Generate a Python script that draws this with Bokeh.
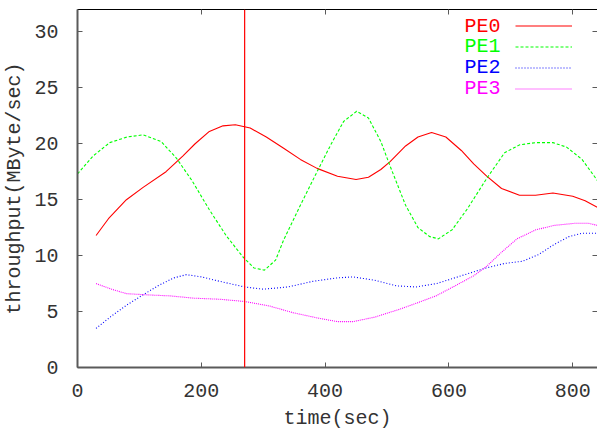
from bokeh.plotting import figure
from bokeh.models import (Range1d, LinearAxis, Span, Label, Legend, LegendItem,
                          FixedTicker, CustomJSTickFormatter)
from bokeh.embed import file_html
from bokeh.resources import INLINE

# ---- data ----
pe0_x = [30, 50, 79, 106, 143, 170, 190, 213, 235, 255, 279, 305, 333, 360, 387, 420, 450, 470, 490, 505, 530, 550, 572, 595, 620, 640, 661, 685, 714, 740, 768, 800, 820, 840]
pe0_y = [11.8, 13.3, 15.0, 16.1, 17.5, 18.9, 20.0, 21.1, 21.6, 21.7, 21.4, 20.6, 19.6, 18.6, 17.8, 17.1, 16.8, 17.0, 17.7, 18.4, 19.8, 20.6, 21.0, 20.6, 19.4, 18.2, 17.1, 16.0, 15.4, 15.4, 15.6, 15.3, 14.9, 14.3]

pe1_x = [0, 25, 52, 80, 106, 135, 160, 185, 213, 240, 267, 285, 302, 320, 333, 360, 387, 410, 430, 451, 470, 490, 505, 530, 550, 569, 583, 605, 630, 661, 690, 714, 740, 768, 790, 815, 840]
pe1_y = [17.3, 18.9, 20.1, 20.6, 20.8, 20.2, 18.7, 16.7, 14.1, 11.8, 9.9, 8.9, 8.7, 9.6, 11.4, 14.5, 17.5, 20.0, 22.0, 22.9, 22.3, 20.2, 18.0, 14.5, 12.5, 11.7, 11.5, 12.3, 14.2, 16.9, 19.2, 19.9, 20.1, 20.1, 19.7, 18.6, 16.7]

pe2_x = [30, 55, 80, 106, 130, 155, 176, 200, 230, 270, 300, 340, 380, 418, 445, 480, 515, 547, 580, 620, 660, 690, 719, 745, 770, 794, 815, 840]
pe2_y = [3.5, 4.6, 5.6, 6.5, 7.3, 8.0, 8.3, 8.1, 7.7, 7.2, 7.0, 7.2, 7.7, 8.0, 8.1, 7.8, 7.3, 7.2, 7.5, 8.2, 8.9, 9.3, 9.5, 10.1, 11.0, 11.7, 12.0, 12.0]

pe3_x = [30, 55, 79, 110, 150, 187, 230, 270, 310, 348, 390, 420, 445, 480, 520, 550, 579, 610, 640, 660, 685, 710, 740, 770, 805, 825, 840]
pe3_y = [7.5, 7.0, 6.6, 6.5, 6.4, 6.2, 6.1, 5.9, 5.5, 4.9, 4.4, 4.1, 4.1, 4.5, 5.2, 5.8, 6.4, 7.3, 8.2, 9.0, 10.3, 11.5, 12.3, 12.7, 12.9, 12.9, 12.7]

series_names = ["PE0", "PE1", "PE2", "PE3"]
series_colors = ["#ff0000", "#00ff00", "#0000ff", "#ff00ff"]
series_dash = ["solid", "3 2", "1 2", "1 1"]

marker_x = 270
x_ticks = [0, 200, 400, 600, 800]
y_ticks = [0, 5, 10, 15, 20, 25, 30]
x_title = "time(sec)"
y_title = "throughput(MByte/sec)"

FONT = "Liberation Mono"
FS = "20px"
AX = "#5a5a5a"
TXT = "#333333"

p = figure(width=597, height=432, output_backend="svg", toolbar_location=None,
           x_range=Range1d(0, 840), y_range=Range1d(0, 32),
           min_border_left=77, min_border_right=0, min_border_top=9, min_border_bottom=64)
p.outline_line_color = None
p.xgrid.visible = False
p.ygrid.visible = False

for ax in (p.xaxis[0], p.yaxis[0]):
    ax.axis_line_color = AX
    ax.axis_line_width = 2
    ax.major_tick_line_color = AX
    ax.major_tick_in = 5
    ax.major_tick_out = 0
    ax.minor_tick_line_color = None
    ax.minor_tick_in = 0
    ax.minor_tick_out = 0
    ax.major_label_text_font = FONT
    ax.major_label_text_font_size = FS
    ax.major_label_text_color = TXT
    ax.axis_label_text_font = FONT
    ax.axis_label_text_font_size = FS
    ax.axis_label_text_font_style = "normal"
    ax.axis_label_text_color = TXT

p.xaxis[0].ticker = FixedTicker(ticks=x_ticks)
p.yaxis[0].ticker = FixedTicker(ticks=y_ticks)
p.xaxis[0].axis_label = x_title
p.yaxis[0].axis_label = y_title
p.xaxis[0].major_label_standoff = 16
p.xaxis[0].axis_label_standoff = 7
p.yaxis[0].major_label_standoff = 19
p.yaxis[0].axis_label_standoff = 5

blank = CustomJSTickFormatter(code="return '';")
top = LinearAxis(ticker=FixedTicker(ticks=x_ticks), formatter=blank,
                 axis_line_color="black", axis_line_width=1,
                 major_tick_line_color=AX, major_tick_in=5, major_tick_out=0,
                 minor_tick_line_color=None, minor_tick_in=0, minor_tick_out=0,
                 major_label_standoff=0)
p.add_layout(top, "above")
right = LinearAxis(ticker=FixedTicker(ticks=y_ticks), formatter=blank, axis_line_color=None,
                   major_tick_line_color=AX, major_tick_in=5, major_tick_out=0,
                   minor_tick_line_color=None, minor_tick_in=0, minor_tick_out=0,
                   major_label_standoff=0)
p.add_layout(right, "right")

xs = [pe0_x, pe1_x, pe2_x, pe3_x]
ys = [pe0_y, pe1_y, pe2_y, pe3_y]
items = []
for x, y, c, d, n in zip(xs, ys, series_colors, series_dash, series_names):
    r = p.line(x, y, line_color=c, line_width=1.1, line_dash=d)
    items.append(LegendItem(label="", renderers=[r]))

p.add_layout(Span(location=marker_x, dimension="height", line_color="#ff0000", line_width=1.2))

leg = Legend(items=items, location=(438, 268), orientation="vertical",
             glyph_width=57, glyph_height=21, label_width=0, label_height=21,
             label_standoff=0, spacing=0, padding=0, margin=0,
             border_line_color=None, background_fill_alpha=0, label_text_font_size="1px")
p.add_layout(leg, "center")

row_y = [341, 321, 300, 279]
for n, c, yy in zip(series_names, series_colors, row_y):
    p.add_layout(Label(x=423, y=yy, x_units="screen", y_units="screen", text=n,
                       text_color=c, text_font=FONT, text_font_size=FS,
                       text_align="right", text_baseline="middle"))

open("out.html", "w").write(file_html(p, INLINE))
